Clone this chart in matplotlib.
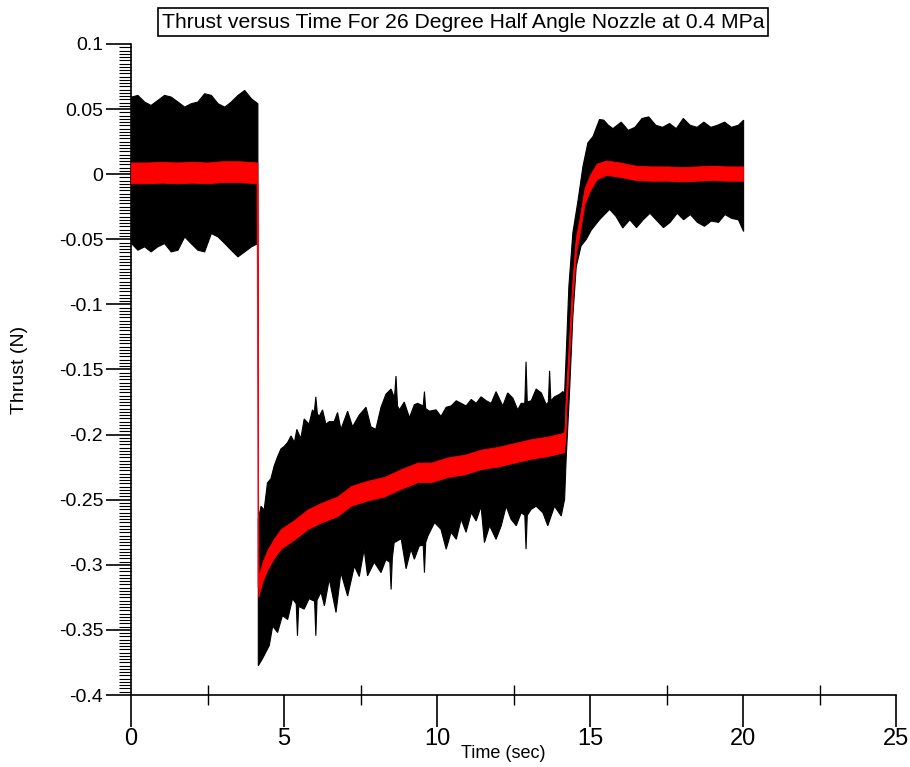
import matplotlib
matplotlib.use("Agg")
import matplotlib.pyplot as plt
from matplotlib import font_manager
from matplotlib.ticker import MultipleLocator
import numpy as np

# ---------------- data ----------------
title_text = "Thrust versus Time For 26 Degree Half Angle Nozzle at 0.4 MPa"
x_label = "Time (sec)"
y_label = "Thrust (N)"
x_ticks = [0, 5, 10, 15, 20, 25]
x_tick_labels = ["0", "5", "10", "15", "20", "25"]
y_ticks = [0.1, 0.05, 0, -0.05, -0.1, -0.15, -0.2, -0.25, -0.3, -0.35, -0.4]
y_tick_labels = ["0.1", "0.05", "0", "-0.05", "-0.1", "-0.15", "-0.2", "-0.25", "-0.3", "-0.35", "-0.4"]

# raw signal envelope, before the valve opens
rest_time = [0.0, 0.21, 0.43, 0.64, 0.86, 1.08, 1.30, 1.52, 1.74, 1.95, 2.17, 2.39,
             2.61, 2.83, 3.05, 3.26, 3.48, 3.70, 3.92, 4.13]
rest_upper = [0.0596, 0.0609, 0.0558, 0.0532, 0.0570, 0.0609, 0.0596, 0.0558, 0.0519, 0.0545,
              0.0558, 0.0622, 0.0609, 0.0545, 0.0519, 0.0558, 0.0609, 0.0647, 0.0583, 0.0545]
rest_lower = [-0.0529, -0.0580, -0.0554, -0.0593, -0.0554, -0.0529, -0.0593, -0.0580, -0.0478, -0.0529,
              -0.0580, -0.0593, -0.0452, -0.0478, -0.0529, -0.0580, -0.0631, -0.0593, -0.0554, -0.0529]

# raw signal envelope, thrust phase + return to zero
upper_time = [4.16, 4.25, 4.35, 4.46, 4.57, 4.68, 4.79, 4.90, 5.01, 5.12, 5.23, 5.34, 5.42, 5.55,
              5.66, 5.82, 5.93, 5.99, 6.04, 6.09, 6.15, 6.26, 6.37, 6.48, 6.64, 6.75, 6.86, 7.08,
              7.24, 7.46, 7.68, 7.84, 8.00, 8.17, 8.33, 8.50, 8.61, 8.66, 8.71, 8.77, 8.93, 9.10,
              9.26, 9.37, 9.55, 9.59, 9.63, 9.75, 9.97, 10.13, 10.30, 10.46, 10.63, 10.79, 10.95,
              11.12, 11.28, 11.44, 11.61, 11.77, 11.93, 12.15, 12.31, 12.48, 12.64, 12.75, 12.87,
              12.91, 12.95, 13.08, 13.24, 13.41, 13.57, 13.64, 13.68, 13.72, 13.84, 14.01, 14.11,
              14.17, 14.22, 14.31, 14.44, 14.61, 14.77, 14.93, 15.10, 15.31,
              15.45, 15.60, 15.75, 16.02, 16.25, 16.47, 16.70, 16.92, 17.15, 17.37, 17.60, 17.82,
              18.05, 18.27, 18.50, 18.72, 18.95, 19.17, 19.40, 19.62, 19.85, 20.02]
upper_value = [-0.265, -0.255, -0.258, -0.237, -0.234, -0.224, -0.217, -0.211, -0.209, -0.206, -0.201,
               -0.206, -0.196, -0.203, -0.188, -0.192, -0.181, -0.183, -0.171, -0.184, -0.186, -0.181,
               -0.192, -0.190, -0.190, -0.183, -0.196, -0.182, -0.194, -0.185, -0.179, -0.194, -0.196,
               -0.179, -0.169, -0.165, -0.172, -0.155, -0.178, -0.181, -0.175, -0.187, -0.177, -0.176,
               -0.178, -0.167, -0.180, -0.182, -0.181, -0.186, -0.179, -0.178, -0.174, -0.176, -0.178,
               -0.173, -0.176, -0.171, -0.174, -0.176, -0.167, -0.178, -0.168, -0.172, -0.181, -0.176,
               -0.176, -0.144, -0.175, -0.174, -0.165, -0.168, -0.177, -0.175, -0.151, -0.174, -0.171,
               -0.169, -0.167, -0.168, -0.140, -0.086, -0.045, -0.020, 0.006, 0.024, 0.029, 0.042,
               0.0415, 0.0376, 0.035, 0.040, 0.0337, 0.036, 0.0428, 0.044, 0.0376, 0.036,
               0.0389, 0.035, 0.0428, 0.0376, 0.036, 0.040, 0.036, 0.0376, 0.040, 0.036, 0.0376, 0.0415]
lower_time = [4.16, 4.30, 4.41, 4.52, 4.63, 4.79, 4.95, 5.12, 5.28, 5.40, 5.44, 5.48, 5.66, 5.82,
              6.00, 6.04, 6.08, 6.21, 6.32, 6.48, 6.70, 6.86, 7.08, 7.30, 7.46, 7.62, 7.73, 7.95,
              8.17, 8.33, 8.46, 8.50, 8.54, 8.60, 8.83, 8.99, 9.15, 9.26, 9.42, 9.55, 9.59, 9.63,
              9.70, 9.92, 10.13, 10.30, 10.46, 10.63, 10.79, 10.95, 11.12, 11.28, 11.44, 11.55,
              11.72, 11.93, 12.10, 12.26, 12.42, 12.59, 12.75, 12.87, 12.91, 12.95, 13.08, 13.24,
              13.46, 13.62, 13.84, 14.06, 14.17, 14.22, 14.33, 14.44, 14.55,
              14.71, 14.88, 15.04, 15.31, 15.64, 15.85, 16.07, 16.30, 16.52, 16.74, 16.96, 17.40,
              17.62, 17.85, 18.06, 18.28, 18.51, 18.74, 18.96, 19.20, 19.41, 19.64, 19.85, 20.02]
lower_value = [-0.3775, -0.372, -0.367, -0.362, -0.347, -0.352, -0.339, -0.342, -0.326, -0.330,
               -0.3545, -0.332, -0.334, -0.326, -0.328, -0.3545, -0.327, -0.321, -0.3315, -0.311,
               -0.3366, -0.306, -0.324, -0.301, -0.309, -0.288, -0.3085, -0.298, -0.306, -0.296,
               -0.298, -0.319, -0.295, -0.283, -0.280, -0.303, -0.288, -0.2957, -0.2855, -0.285,
               -0.306, -0.283, -0.278, -0.2676, -0.2727, -0.288, -0.275, -0.2804, -0.265, -0.275,
               -0.260, -0.2663, -0.255, -0.283, -0.270, -0.2804, -0.270, -0.255, -0.265, -0.270,
               -0.260, -0.262, -0.288, -0.262, -0.2574, -0.255, -0.260, -0.270, -0.255, -0.2625,
               -0.2497, -0.219, -0.168, -0.109, -0.071, -0.055, -0.050, -0.043, -0.035, -0.027,
               -0.0324, -0.0413, -0.035, -0.041, -0.035, -0.030, -0.041, -0.037, -0.030, -0.035,
               -0.031, -0.037, -0.040, -0.036, -0.037, -0.031, -0.034, -0.035, -0.044]

# filtered (red) signal: centre line and band thickness
red_time = [0.0, 0.5, 1.0, 1.5, 2.0, 2.5, 3.0, 3.5, 4.13,
            4.16, 4.30, 4.46, 4.68, 4.90, 5.34, 5.77, 6.21, 6.75, 7.19, 7.73, 8.28, 8.83, 9.37,
            9.81, 10.35, 10.90, 11.44, 11.98, 12.53, 13.08, 13.62, 14.15,
            14.20, 14.22, 14.33, 14.44, 14.55, 14.66, 14.82, 14.99, 15.21,
            15.53, 15.97, 16.5, 17.0, 17.5, 18.0, 18.5, 19.0, 19.5, 20.0]
red_mid = [0.001, 0.001, 0.0015, 0.001, 0.0015, 0.001, 0.002, 0.002, 0.001,
           -0.317, -0.305, -0.296, -0.287, -0.280, -0.273, -0.265, -0.260, -0.255, -0.247, -0.243,
           -0.240, -0.234, -0.229, -0.229, -0.225, -0.223, -0.219, -0.217, -0.214, -0.211, -0.209,
           -0.206,
           -0.195, -0.178, -0.132, -0.086, -0.053, -0.040, -0.017, -0.007, 0.002,
           0.005, 0.0035, 0.001, 0.0005, 0.0005, 0.0, 0.0005, 0.001, 0.0005, 0.0005]
red_thickness = [0.016] * 9 + [0.015] * 23 + [0.012] * 9 + [0.011] * 10

# ---------------- fonts ----------------
available = {f.name for f in font_manager.fontManager.ttflist}
narrow = "Liberation Sans Narrow" if "Liberation Sans Narrow" in available else "Liberation Sans"
regular = "Liberation Sans"
plt.rcParams["font.family"] = [regular, "DejaVu Sans"]

# ---------------- figure ----------------
W, H = 910, 767
fig = plt.figure(figsize=(W / 100, H / 100), dpi=100)
ax = fig.add_axes([131 / W, 1 - 695 / H, (896 - 131) / W, (695 - 44) / H])

# raw signal (black)
ax.fill_between(rest_time, rest_lower, rest_upper, color="black", lw=0.8, zorder=2)
poly_x = np.concatenate([upper_time, lower_time[::-1]])
poly_y = np.concatenate([upper_value, lower_value[::-1]])
ax.fill(poly_x, poly_y, color="black", lw=0.8, zorder=2)

# filtered signal (red): thin trace (visible at the step) under a thick band
mid = np.array(red_mid)
half = np.array(red_thickness) / 2
ax.plot(red_time, mid, color="#ee1c4a", lw=1.0, zorder=2.5)
ax.fill_between(red_time, mid - half, mid + half, color="#ff0000", lw=0.6, zorder=3)

ax.set_xlim(0, 25)
ax.set_ylim(-0.4, 0.1)
ax.set_xticks(x_ticks)
ax.set_xticklabels(x_tick_labels)
ax.set_yticks(y_ticks)
ax.set_yticklabels(y_tick_labels)
ax.xaxis.set_minor_locator(MultipleLocator(2.5))
ax.yaxis.set_minor_locator(MultipleLocator(0.0025))

for s in ("top", "right"):
    ax.spines[s].set_visible(False)
for s in ("left", "bottom"):
    ax.spines[s].set_linewidth(1.2)

ax.tick_params(axis="x", which="major", direction="out", length=23, width=1.2, pad=1,
               labelsize=17, labelfontfamily=narrow)
ax.tick_params(axis="x", which="minor", direction="inout", length=14, width=1.0)
ax.tick_params(axis="y", which="major", direction="out", length=18, width=1.2, pad=2,
               labelsize=14, labelfontfamily=regular)
ax.tick_params(axis="y", which="minor", direction="out", length=9, width=0.8)

fig.text(463 / W, 1 - 22 / H, title_text, ha="center", va="center", fontsize=15.2,
         family=regular,
         bbox=dict(boxstyle="square,pad=0.2", fc="white", ec="black", lw=1.2))
fig.text(503 / W, 1 - 753 / H, x_label, ha="center", va="center", fontsize=13, family=narrow)
fig.text(20 / W, 1 - 370 / H, y_label, ha="center", va="center", rotation=90, fontsize=14,
         family=narrow)

fig.savefig("out.png", dpi=100)
